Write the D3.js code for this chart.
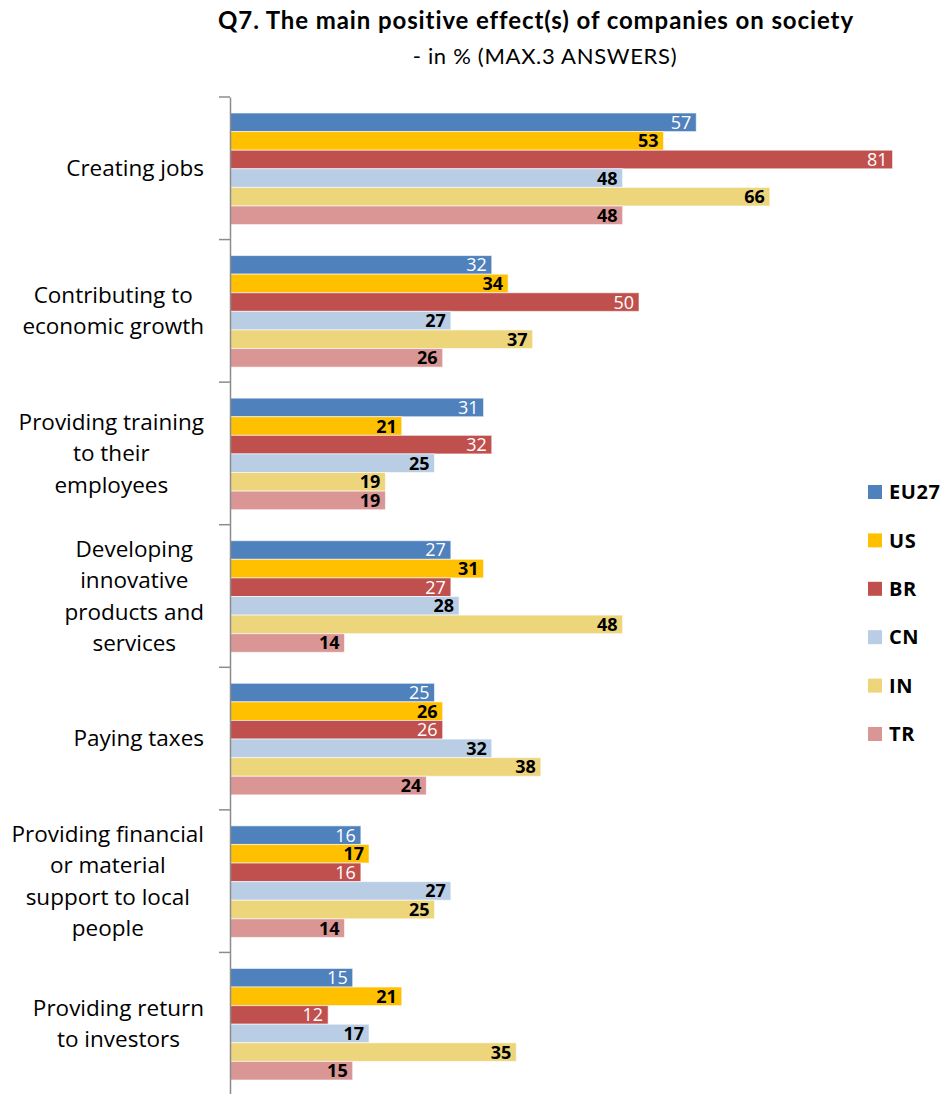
<!DOCTYPE html>
<html>
<head>
<meta charset="utf-8">
<script src="https://cdn.jsdelivr.net/npm/d3@7"></script>
<style>
  html, body { margin: 0; padding: 0; background: #fff; }
  svg { display: block; font-family: "Open Sans", Lato, sans-serif; }
</style>
</head>
<body>
<svg id="chart" width="943" height="1094"></svg>
<script>
// Survey question: main positive effects of companies on society (%)
const categories = [
  ["Creating jobs"],
  ["Contributing to", "economic growth"],
  ["Providing training", "to their", "employees"],
  ["Developing", "innovative", "products and", "services"],
  ["Paying taxes"],
  ["Providing financial", "or material", "support to local", "people"],
  ["Providing return", "to investors"]
];
const series = ["EU27", "US", "BR", "CN", "IN", "TR"];
const EU27 = [57, 32, 31, 27, 25, 16, 15];
const US   = [53, 34, 21, 31, 26, 17, 21];
const BR   = [81, 50, 32, 27, 26, 16, 12];
const CN   = [48, 27, 25, 28, 32, 27, 17];
const IN   = [66, 37, 19, 48, 38, 25, 35];
const TR   = [48, 26, 19, 14, 24, 14, 15];
const values = [EU27, US, BR, CN, IN, TR];

const colors = ["#4F81BD", "#FFC000", "#C0504D", "#B9CDE5", "#EDD57C", "#D99694"];
const labelColors = ["#ffffff", "#000000", "#ffffff", "#000000", "#000000", "#000000"];

const svg = d3.select("#chart");
const fontMain = "'Open Sans', Lato, sans-serif";
const fontTitle = "Lato, 'Open Sans', sans-serif";

// Title
svg.append("text")
  .attr("x", 536).attr("y", 29)
  .attr("text-anchor", "middle")
  .style("font-family", fontTitle)
  .style("font-weight", "bold")
  .style("font-size", "24px")
  .style("letter-spacing", "0.9px")
  .attr("fill", "#000")
  .text("Q7. The main positive effect(s) of companies on society");
svg.append("text")
  .attr("x", 545).attr("y", 64)
  .attr("text-anchor", "middle")
  .style("font-family", fontTitle)
  .style("font-size", "22px")
  .style("letter-spacing", "0.7px")
  .attr("fill", "#000")
  .text("- in % (MAX.3 ANSWERS)");

// Scales
const x0 = 230;
const x = d3.scaleLinear().domain([0, 100]).range([x0, x0 + 818]);
const idx = d3.range(categories.length);
const y = d3.scaleBand().domain(idx).range([97, 1095]).padding(0);
const yInner = d3.scaleBand().domain(series).range([16, y.bandwidth() - 15]).padding(0);

// Bars with value labels at the inside end
const groups = svg.selectAll("g.cat").data(idx).join("g")
  .attr("class", "cat")
  .attr("transform", i => `translate(0,${y(i)})`);

series.forEach((s, si) => {
  groups.append("rect")
    .attr("x", x(0))
    .attr("y", yInner(s))
    .attr("width", i => x(values[si][i]) - x(0))
    .attr("height", yInner.bandwidth())
    .attr("fill", colors[si])
    .attr("stroke", "rgba(255,255,255,0.6)")
    .attr("stroke-width", 1);
  groups.append("text")
    .attr("x", i => x(values[si][i]) - 5)
    .attr("y", yInner(s) + yInner.bandwidth() / 2)
    .attr("dy", "0.36em")
    .attr("text-anchor", "end")
    .style("font-family", fontMain)
    .style("font-size", "18px")
    .style("font-weight", si === 0 || si === 2 ? "normal" : "bold")
    .attr("fill", labelColors[si])
    .text(i => values[si][i]);
});

// Category axis line
const axis = d3.axisLeft(y).tickValues([]).tickSizeOuter(0);
const gAxis = svg.append("g").attr("transform", `translate(${x0},0)`).call(axis);
gAxis.select(".domain").attr("stroke", "#8c8c8c").attr("stroke-width", 1.5);
// separator ticks between category bands
const edges = idx.map(i => y(i)).concat([y(idx[idx.length - 1]) + y.bandwidth()]);
svg.selectAll("line.sep").data(edges).join("line")
  .attr("class", "sep")
  .attr("x1", x0 - 11).attr("x2", x0)
  .attr("y1", d => d).attr("y2", d => d)
  .attr("stroke", "#8c8c8c").attr("stroke-width", 1.5);

// Category labels: wrapped block right-aligned, lines centred within block
const lineH = 31.5;
idx.forEach(i => {
  const lines = categories[i];
  const g = svg.append("g");
  const texts = lines.map(ln => g.append("text")
    .style("font-family", fontMain)
    .style("font-size", "22.5px")
    .attr("fill", "#000")
    .attr("text-anchor", "middle")
    .text(ln));
  const maxW = d3.max(texts, t => t.node().getComputedTextLength());
  const cx = 204 - maxW / 2;
  const cy = y(i) + y.bandwidth() / 2;
  texts.forEach((t, k) => {
    t.attr("x", cx)
     .attr("y", cy + (k - (lines.length - 1) / 2) * lineH)
     .attr("dy", "0.35em");
  });
});

// Legend
const legend = svg.append("g");
series.forEach((s, si) => {
  const ly = 492 + si * 48.4;
  legend.append("rect")
    .attr("x", 868).attr("y", ly - 7)
    .attr("width", 14).attr("height", 14)
    .attr("fill", colors[si]);
  legend.append("text")
    .attr("x", 889).attr("y", ly)
    .attr("dy", "0.36em")
    .style("font-family", fontMain)
    .style("font-size", "20px")
    .style("font-weight", "bold")
    .style("letter-spacing", "0.6px")
    .attr("fill", "#000")
    .text(s);
});
</script>
</body>
</html>
